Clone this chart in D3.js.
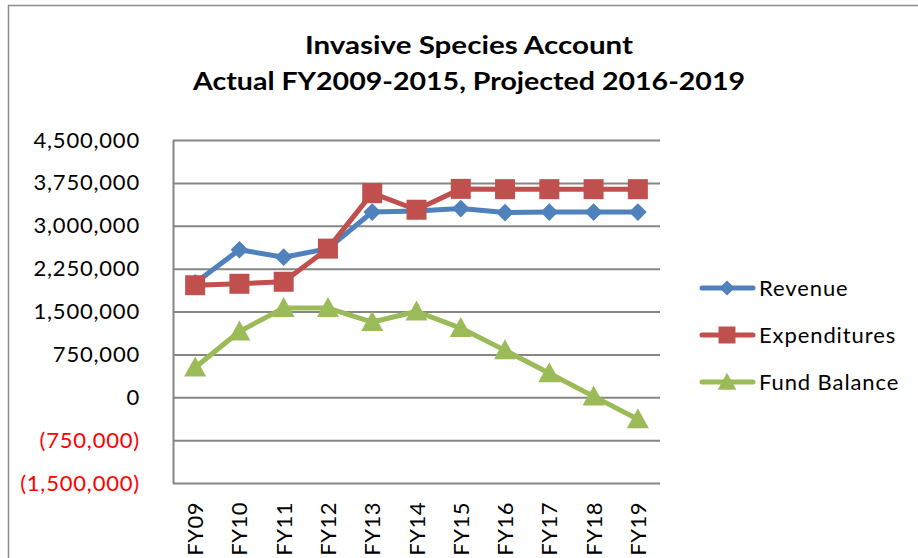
<!DOCTYPE html>
<html>
<head>
<meta charset="utf-8">
<script src="https://cdn.jsdelivr.net/npm/d3@7"></script>
<style>
  body { margin: 0; background: #fff; }
  svg { display: block; font-family: Lato, "Open Sans", sans-serif; }
</style>
</head>
<body>
<script>
// chart data
var categories = ["FY09", "FY10", "FY11", "FY12", "FY13", "FY14", "FY15", "FY16", "FY17", "FY18", "FY19"];
var revenue = [2000000, 2580000, 2450000, 2600000, 3240000, 3260000, 3300000, 3230000, 3240000, 3240000, 3240000];
var expenditures = [1960000, 1985000, 2020000, 2600000, 3570000, 3280000, 3645000, 3640000, 3640000, 3640000, 3640000];
var fundBalance = [520000, 1150000, 1560000, 1560000, 1316000, 1500000, 1210000, 820000, 420000, 15000, -385000];
var yTicks = [-1500000, -750000, 0, 750000, 1500000, 2250000, 3000000, 3750000, 4500000];
var titleLines = ["Invasive Species Account", "Actual FY2009-2015, Projected 2016-2019"];

var series = [
  {name: "Revenue", values: revenue, color: "#4F81BD", marker: "diamond"},
  {name: "Expenditures", values: expenditures, color: "#C0504D", marker: "square"},
  {name: "Fund Balance", values: fundBalance, color: "#9BBB59", marker: "triangle"}
];

var W = 918, H = 558;
var plot = {left: 173, right: 660, top: 140, bottom: 483};

var svg = d3.select("body").append("svg")
    .attr("width", W)
    .attr("height", H);

// outer chart border
svg.append("rect")
    .attr("x", 8.5).attr("y", 5.5)
    .attr("width", 1000).attr("height", 1000)
    .attr("fill", "#fff")
    .attr("stroke", "#8c8c8c")
    .attr("stroke-width", 1.5);

var x = d3.scalePoint().domain(categories).range([plot.left, plot.right]).padding(0.5);
var y = d3.scaleLinear().domain([-1500000, 4500000]).range([plot.bottom, plot.top]);

// title
svg.append("g").selectAll("text")
    .data(titleLines)
  .enter().append("text")
    .attr("x", 469)
    .attr("y", function(d, i) { return 54 + i * 36; })
    .attr("text-anchor", "middle")
    .attr("font-size", 25)
    .attr("font-weight", "bold")
    .attr("fill", "#000")
    .attr("textLength", function(d, i) { return i === 0 ? 328 : 552; })
    .attr("lengthAdjust", "spacingAndGlyphs")
    .text(function(d) { return d; });

// gridlines
svg.append("g")
    .attr("class", "grid")
    .attr("transform", "translate(" + plot.left + ",0)")
    .call(d3.axisRight(y).tickValues(yTicks).tickSize(plot.right - plot.left).tickFormat(""))
    .call(function(g) {
      g.select(".domain").remove();
      g.selectAll("line").attr("stroke", "#868686").attr("stroke-width", 2);
    });

// y axis
var fmt = d3.format(",");
svg.append("g")
    .attr("transform", "translate(" + plot.left + ",0)")
    .call(d3.axisLeft(y).tickValues(yTicks).tickSize(0).tickPadding(33)
      .tickFormat(function(d) { return d < 0 ? "(" + fmt(-d) + ")" : fmt(d); }))
    .call(function(g) {
      g.select(".domain").attr("stroke", "#868686").attr("stroke-width", 2);
      g.selectAll("text")
        .attr("font-size", 22)
        .attr("letter-spacing", 0.8)
        .attr("font-family", "Lato, sans-serif")
        .attr("fill", function(d) { return d < 0 ? "#ff0000" : "#000"; });
    });

// x labels
svg.append("g")
    .attr("transform", "translate(0," + plot.bottom + ")")
    .call(d3.axisBottom(x).tickSize(0).tickFormat(""))
    .call(function(g) { g.select(".domain").remove(); });

svg.append("g").selectAll("text")
    .data(categories)
  .enter().append("text")
    .attr("transform", function(d) { return "translate(" + (x(d) + 8) + ",502) rotate(-90)"; })
    .attr("text-anchor", "end")
    .attr("font-size", 22)
    .attr("letter-spacing", 0.5)
    .attr("fill", "#000")
    .text(function(d) { return d; });

// markers
function markerPath(type) {
  if (type === "diamond") return d3.symbol().type(d3.symbolDiamond2).size(200)();
  if (type === "square") return "M-10,-10H10V10H-10Z";
  return "M0,-11L11,9H-11Z";
}

var line = d3.line()
    .x(function(d, i) { return x(categories[i]); })
    .y(function(d) { return y(d); });

series.forEach(function(s) {
  var g = svg.append("g");
  g.append("path")
      .datum(s.values)
      .attr("fill", "none")
      .attr("stroke", s.color)
      .attr("stroke-width", 5)
      .attr("stroke-linejoin", "round")
      .attr("d", line);
  g.selectAll("path.pt")
      .data(s.values)
    .enter().append("path")
      .attr("class", "pt")
      .attr("d", markerPath(s.marker))
      .attr("transform", function(d, i) { return "translate(" + x(categories[i]) + "," + y(d) + ")"; })
      .attr("fill", s.color);
});

// legend
var legend = svg.append("g").selectAll("g")
    .data(series)
  .enter().append("g")
    .attr("transform", function(d, i) { return "translate(700," + (288 + i * 47) + ")"; });

legend.append("line")
    .attr("x1", 2).attr("x2", 53)
    .attr("stroke", function(d) { return d.color; })
    .attr("stroke-width", 5)
    .attr("stroke-linecap", "round");

legend.append("path")
    .attr("transform", "translate(27,0) scale(0.85)")
    .attr("d", function(d) { return markerPath(d.marker); })
    .attr("fill", function(d) { return d.color; });

legend.append("text")
    .attr("x", 59)
    .attr("y", 8)
    .attr("font-size", 22)
    .attr("letter-spacing", 0.9)
    .attr("fill", "#000")
    .text(function(d) { return d.name; });
</script>
</body>
</html>
